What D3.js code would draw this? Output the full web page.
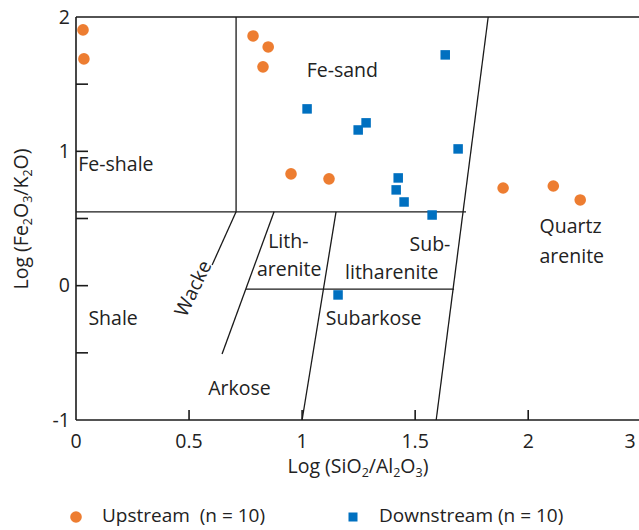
<!DOCTYPE html>
<html>
<head>
<meta charset="utf-8">
<script src="https://cdn.jsdelivr.net/npm/d3@7"></script>
<style>
  html, body { margin: 0; padding: 0; background: #fff; }
  svg { display: block; font-family: "Open Sans", Lato, sans-serif; }
  .legend text { white-space: pre; }
</style>
</head>
<body>
<svg id="chart" width="639" height="530"></svg>
<script>
// Upstream samples: log(SiO2/Al2O3), log(Fe2O3/K2O)
const upstreamX = [0.031, 0.035, 0.783, 0.850, 0.827, 0.951, 1.119, 1.889, 2.111, 2.230];
const upstreamY = [1.904, 1.688, 1.859, 1.777, 1.629, 0.832, 0.795, 0.727, 0.742, 0.638];

// Downstream samples
const downstreamX = [1.022, 1.633, 1.248, 1.283, 1.690, 1.425, 1.416, 1.451, 1.575, 1.159];
const downstreamY = [1.316, 1.718, 1.159, 1.212, 1.018, 0.802, 0.713, 0.623, 0.526, -0.069];

// Axis ticks
const xTickValues = [0, 0.5, 1, 1.5, 2, 2.45];
const xTickLabels = ["0", "0.5", "1", "1.5", "2", "3"];
const xTickMarks = [0.5, 1, 1.5, 2];
const yTickLabelValues = [2, 1, 0, -1];
const yTickMarks = [1.5, 1, 0.5, 0, -0.5];

// Classification field boundaries (Herron 1988), as [x1, y1, x2, y2]
const boundaries = [
  [0, 0.55, 1.725, 0.55],      // iron-rich / iron-poor divide
  [0.708, 0.55, 0.708, 2.0],   // Fe-shale | Fe-sand
  [0.708, 0.55, 0.602, 0.154], // wacke line
  [0.876, 0.55, 0.646, -0.509],// litharenite / arkose edge
  [0.752, -0.025, 1.672, -0.025], // litharenite / subarkose
  [1.150, 0.55, 1.0, -1.0],    // arkose | subarkose
  [1.823, 2.0, 1.593, -1.0]    // quartz arenite edge
];

// Field names: text lines with anchor point in data units
const fieldNames = ["Fe-sand", "Fe-shale", "Lith-", "arenite", "Sub-", "litharenite", "Subarkose", "Quartz", "arenite", "Shale", "Arkose"];
const fieldX = [1.02, 0.01, 0.85, 0.80, 1.475, 1.19, 1.105, 2.05, 2.05, 0.055, 0.585];
const fieldY = [1.555, 0.855, 0.28, 0.075, 0.255, 0.05, -0.29, 0.39, 0.17, -0.29, -0.815];

const legendLabels = ["Upstream  (n = 10)", "Downstream (n = 10)"];
const colors = { up: "#ED7D31", down: "#0070C0" };
const fs = 19.5;

const svg = d3.select("#chart");
const x = d3.scaleLinear().domain([0, 2.49]).range([76, 639]);
const y = d3.scaleLinear().domain([-1, 2]).range([420, 17]);

// Frame: left axis, bottom axis, top border
const frame = svg.append("g").attr("stroke", "#1a1a1a").attr("stroke-width", 1.6).attr("fill", "none");
frame.append("line").attr("x1", x(0)).attr("x2", x(0)).attr("y1", y(2)).attr("y2", y(-1));
frame.append("line").attr("x1", x(0)).attr("x2", x(2.49)).attr("y1", y(-1)).attr("y2", y(-1));
frame.append("line").attr("x1", x(0)).attr("x2", x(2.49)).attr("y1", y(2)).attr("y2", y(2));

// Inward tick marks
frame.selectAll(".yt").data(yTickMarks).join("line")
  .attr("x1", x(0)).attr("x2", x(0) + 12).attr("y1", d => y(d)).attr("y2", d => y(d));
frame.selectAll(".xt").data(xTickMarks).join("line")
  .attr("x1", d => x(d)).attr("x2", d => x(d)).attr("y1", y(-1)).attr("y2", y(-1) - 10);

// Tick labels
svg.append("g").selectAll("text").data(yTickLabelValues).join("text")
  .attr("x", x(0) - 6).attr("y", d => y(d)).attr("dy", "0.35em")
  .attr("text-anchor", "end").attr("font-size", fs).attr("fill", "#222")
  .text(d => String(d));
svg.append("g").selectAll("text").data(xTickValues).join("text")
  .attr("x", d => x(d)).attr("y", y(-1) + 21).attr("dy", "0.35em")
  .attr("text-anchor", "middle").attr("font-size", fs).attr("fill", "#222")
  .text((d, i) => xTickLabels[i]);

// Field boundaries
svg.append("g").attr("stroke", "#1a1a1a").attr("stroke-width", 1.3)
  .selectAll("line").data(boundaries).join("line")
  .attr("x1", d => x(d[0])).attr("y1", d => y(d[1]))
  .attr("x2", d => x(d[2])).attr("y2", d => y(d[3]));

// Field names
svg.append("g").attr("font-size", fs).attr("fill", "#222")
  .selectAll("text").data(fieldNames).join("text")
  .attr("x", (d, i) => x(fieldX[i])).attr("y", (d, i) => y(fieldY[i]))
  .text(d => d);

// Rotated "Wacke" along its boundary
svg.append("text")
  .attr("transform", `translate(${x(0.487)},${y(-0.24)}) rotate(-64)`)
  .attr("font-size", fs).attr("fill", "#222").text("Wacke");

// Data points
svg.append("g").selectAll("circle").data(d3.range(upstreamX.length)).join("circle")
  .attr("cx", i => x(upstreamX[i])).attr("cy", i => y(upstreamY[i]))
  .attr("r", 5.8).attr("fill", colors.up);
const s = 9.5;
svg.append("g").selectAll("rect").data(d3.range(downstreamX.length)).join("rect")
  .attr("x", i => x(downstreamX[i]) - s / 2).attr("y", i => y(downstreamY[i]) - s / 2)
  .attr("width", s).attr("height", s).attr("fill", colors.down);

// Axis titles
const sub = 12.5;
const xt = svg.append("text").attr("x", 358).attr("y", 473).attr("text-anchor", "middle")
  .attr("font-size", fs).attr("fill", "#222");
xt.append("tspan").text("Log (SiO");
xt.append("tspan").attr("font-size", sub).attr("dy", 4).text("2");
xt.append("tspan").attr("dy", -4).text("/Al");
xt.append("tspan").attr("font-size", sub).attr("dy", 4).text("2");
xt.append("tspan").attr("dy", -4).text("O");
xt.append("tspan").attr("font-size", sub).attr("dy", 4).text("3");
xt.append("tspan").attr("dy", -4).text(")");

const yt = svg.append("text").attr("transform", "translate(28,219) rotate(-90)")
  .attr("text-anchor", "middle").attr("font-size", fs).attr("fill", "#222");
yt.append("tspan").text("Log (Fe");
yt.append("tspan").attr("font-size", sub).attr("dy", 4).text("2");
yt.append("tspan").attr("dy", -4).text("O");
yt.append("tspan").attr("font-size", sub).attr("dy", 4).text("3");
yt.append("tspan").attr("dy", -4).text("/K");
yt.append("tspan").attr("font-size", sub).attr("dy", 4).text("2");
yt.append("tspan").attr("dy", -4).text("O)");

// Legend
const ly = 515;
const lg = svg.append("g").attr("class", "legend").attr("font-size", 19).attr("fill", "#222");
lg.append("circle").attr("cx", 76).attr("cy", ly + 2).attr("r", 5.8).attr("fill", colors.up);
lg.append("text").attr("x", 102).attr("y", ly).attr("dy", "0.35em").text(legendLabels[0]);
lg.append("rect").attr("x", 353 - 4.5).attr("y", ly + 2 - 4.5).attr("width", 9).attr("height", 9).attr("fill", colors.down);
lg.append("text").attr("x", 379).attr("y", ly).attr("dy", "0.35em").text(legendLabels[1]);
</script>
</body>
</html>
